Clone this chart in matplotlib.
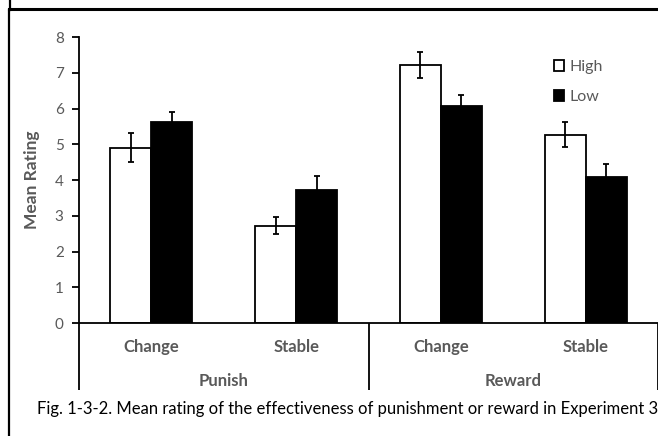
import matplotlib

matplotlib.use("Agg")

import matplotlib.pyplot as plt
import numpy as np
from matplotlib.lines import Line2D
from matplotlib.transforms import blended_transform_factory

plt.rcParams.update({
    "font.family": ["Lato", "DejaVu Sans"],
})

GRAY = "#595959"

conditions = ["Change", "Stable", "Change", "Stable"]
groups = ["Punish", "Reward"]
high_mean = [4.90, 2.72, 7.21, 5.27]
high_err = [0.41, 0.24, 0.37, 0.35]
low_mean = [5.61, 3.73, 6.08, 4.08]
low_err = [0.30, 0.37, 0.31, 0.37]
series_labels = ["High", "Low"]
y_ticks = [0, 1, 2, 3, 4, 5, 6, 7, 8]

W, H = 658, 436
fig = plt.figure(figsize=(W / 100, H / 100), dpi=100)

# outer frame (crop of a bordered cell)
fig.add_artist(Line2D([8.5 / W, 8.5 / W], [0, 1 - 10 / H], transform=fig.transFigure,
                      color="black", lw=1.6))
fig.add_artist(Line2D([9.5 / W, 9.5 / W], [1 - 10 / H, 1], transform=fig.transFigure,
                      color="black", lw=1.6))
fig.add_artist(Line2D([8.5 / W, 1], [1 - 9.5 / H, 1 - 9.5 / H], transform=fig.transFigure,
                      color="black", lw=2.2))

left, right, top, bottom = 79, 658, 37, 323
ax = fig.add_axes([left / W, 1 - bottom / H, (right - left) / W, (bottom - top) / H])

x = np.arange(len(conditions)) + 0.5
bw = 0.284
err_kw = dict(ecolor="black", elinewidth=1.3, capsize=2.5, capthick=1.3)
b_high = ax.bar(x - bw / 2, high_mean, bw, yerr=high_err, color="white",
                edgecolor="black", linewidth=1.3, error_kw=err_kw, label=series_labels[0])
b_low = ax.bar(x + bw / 2, low_mean, bw, yerr=low_err, color="black",
               edgecolor="black", linewidth=1.3, error_kw=err_kw, label=series_labels[1])

ax.set_xlim(0, len(conditions))
ax.set_ylim(0, 8)
ax.set_yticks(y_ticks)
ax.tick_params(axis="y", direction="out", length=5, width=1.3, colors="black",
               labelcolor=GRAY, labelsize=11, pad=6)
ax.set_xticks([])
for s in ("top", "right"):
    ax.spines[s].set_visible(False)
for s in ("left", "bottom"):
    ax.spines[s].set_linewidth(1.3)
ax.spines["left"].set_bounds(0, 8)
ax.set_ylabel("Mean Rating", fontsize=12.5, fontweight="bold", color=GRAY, labelpad=11)

# hierarchical category axis
tr = blended_transform_factory(ax.transData, ax.transAxes)
ext = -(390 - bottom) / (bottom - top)
for xv in (0, 2, 4):
    ax.plot([xv, xv], [0, ext], transform=tr, color="black", lw=1.3,
            clip_on=False, solid_capstyle="butt")
for xv, lab in zip(x, conditions):
    ax.text(xv, -(347 - bottom) / (bottom - top), lab, transform=tr, ha="center",
            va="center", fontsize=12, fontweight="bold", color=GRAY)
for i, g in enumerate(groups):
    ax.text(1 + 2 * i, -(381 - bottom) / (bottom - top), g, transform=tr, ha="center",
            va="center", fontsize=12, fontweight="bold", color=GRAY)

ax.legend(handles=[b_high, b_low], loc="upper left",
          bbox_to_anchor=(546 / W, 1 - 52 / H), bbox_transform=fig.transFigure,
          frameon=False, fontsize=11.5, handlelength=0.65, handleheight=0.65,
          handletextpad=0.35, labelspacing=1.0, labelcolor=GRAY, borderpad=0)

fig.text(37 / W, 1 - 409 / H,
         "Fig. 1-3-2. Mean rating of the effectiveness of punishment or reward in Experiment 3",
         ha="left", va="center", fontsize=12, color="black")

fig.savefig("out.png", dpi=100)
